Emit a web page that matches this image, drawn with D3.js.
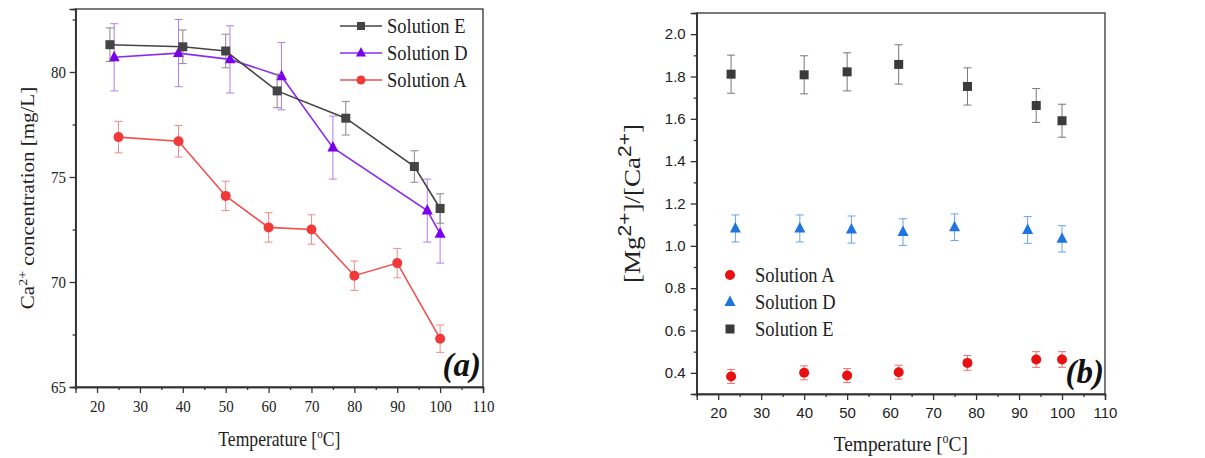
<!DOCTYPE html>
<html>
<head>
<meta charset="utf-8">
<script src="https://cdn.jsdelivr.net/npm/d3@7"></script>
<style>
  body { margin: 0; background: #fff; }
  .serif { font-family: "Liberation Serif", "Times New Roman", serif; }
  .sans { font-family: "Liberation Sans", Arial, sans-serif; }
</style>
</head>
<body>
<script>
// ---- data, panel (a): Ca2+ concentration [mg/L] ----
var tempA_a = [25, 39, 50, 60, 70, 80, 90, 100];
var caA = [76.9, 76.7, 74.1, 72.6, 72.5, 70.3, 70.9, 67.3];
var caA_err = [0.75, 0.75, 0.7, 0.7, 0.7, 0.7, 0.7, 0.65];

var tempD_a = [24, 39, 51, 63, 75, 97, 100];
var caD = [80.7, 80.9, 80.6, 79.8, 76.4, 73.4, 72.3];
var caD_err = [1.6, 1.6, 1.6, 1.6, 1.5, 1.5, 1.4];

var tempE_a = [23, 40, 50, 62, 78, 94, 100];
var caE = [81.3, 81.2, 81.0, 79.1, 77.8, 75.5, 73.5];
var caE_err = [0.8, 0.8, 0.8, 0.8, 0.8, 0.75, 0.7];

// ---- data, panel (b): [Mg2+]/[Ca2+] ----
var tempA_b = [23, 40, 50, 62, 78, 94, 100];
var ratioA = [0.383, 0.400, 0.387, 0.403, 0.447, 0.463, 0.463];
var ratioA_err = [0.033, 0.033, 0.033, 0.033, 0.035, 0.037, 0.037];

var tempD_b = [24, 39, 51, 63, 75, 92, 100];
var ratioD = [1.082, 1.082, 1.077, 1.065, 1.088, 1.075, 1.033];
var ratioD_err = [0.064, 0.064, 0.064, 0.063, 0.063, 0.063, 0.062];

var tempE_b = [23, 40, 50, 62, 78, 94, 100];
var ratioE = [1.811, 1.808, 1.822, 1.857, 1.753, 1.663, 1.591];
var ratioE_err = [0.09, 0.09, 0.09, 0.093, 0.088, 0.08, 0.078];

var xTicks = [20, 30, 40, 50, 60, 70, 80, 90, 100, 110];
var yTicks_a = [65, 70, 75, 80];
var yTicks_b = [0.4, 0.6, 0.8, 1.0, 1.2, 1.4, 1.6, 1.8, 2.0];

// the serif text in the figure is a bit narrow, squeeze it horizontally
var SQ = 0.88;

var svg = d3.select("body").append("svg")
  .attr("width", 1205)
  .attr("height", 458);

function zip(xs, ys, es) {
  return xs.map(function(x, i) { return {x: x, y: ys[i], e: es[i]}; });
}

function marker(g, shape, x, y, size, color) {
  if (shape === "square") {
    g.append("rect")
      .attr("x", x - size / 2).attr("y", y - size / 2)
      .attr("width", size).attr("height", size)
      .attr("fill", color);
  } else if (shape === "triangle") {
    var h = size * 0.95;
    g.append("path")
      .attr("d", "M" + x + "," + (y - h * 0.62) + "L" + (x + size / 2) + "," + (y + h * 0.38) +
                 "L" + (x - size / 2) + "," + (y + h * 0.38) + "Z")
      .attr("fill", color);
  } else {
    g.append("circle").attr("cx", x).attr("cy", y).attr("r", size / 2).attr("fill", color);
  }
}

function drawPanel(opt) {
  var m = opt.box;
  var x = d3.scaleLinear().domain([15, 110]).range([m.left, m.right]);
  var y = d3.scaleLinear().domain(opt.yDomain).range([m.bottom, m.top]);
  var g = svg.append("g");

  // frame
  g.append("rect")
    .attr("x", m.left).attr("y", m.top)
    .attr("width", m.right - m.left).attr("height", m.bottom - m.top)
    .attr("fill", "none").attr("stroke", "#333").attr("stroke-width", 1.3);

  // x axis
  g.append("g")
    .attr("transform", "translate(0," + m.bottom + ")")
    .call(d3.axisBottom(x).tickValues(xTicks).tickSize(6).tickPadding(7));
  g.append("g")
    .attr("transform", "translate(0," + m.bottom + ")")
    .call(d3.axisBottom(x).tickValues(d3.range(25, 110, 10)).tickSize(3).tickFormat(""));
  // y axis
  g.append("g")
    .attr("transform", "translate(" + m.left + ",0)")
    .call(d3.axisLeft(y).tickValues(opt.yTicks).tickSize(6).tickPadding(5).tickFormat(opt.yFormat));
  g.append("g")
    .attr("transform", "translate(" + m.left + ",0)")
    .call(d3.axisLeft(y).tickValues(opt.yMinor).tickSize(3).tickFormat(""));

  g.selectAll(".domain").attr("stroke", "#333").attr("stroke-width", 1.3);
  g.selectAll(".tick line").attr("stroke", "#333").attr("stroke-width", 1.3);
  g.selectAll(".tick text")
    .attr("class", opt.tickFont)
    .attr("font-size", opt.tickSize)
    .attr("transform", "scale(" + opt.tickSq + ",1)")
    .attr("fill", "#222");

  // series
  opt.series.forEach(function(s) {
    var pts = s.data;
    var sg = g.append("g");
    if (s.line) {
      sg.append("path")
        .attr("d", d3.line().x(function(d) { return x(d.x); }).y(function(d) { return y(d.y); })(pts))
        .attr("fill", "none").attr("stroke", s.lineColor).attr("stroke-width", 1.6);
    }
    pts.forEach(function(d) {
      var cx = x(d.x), y1 = y(d.y + d.e), y2 = y(d.y - d.e);
      sg.append("line").attr("x1", cx).attr("x2", cx).attr("y1", y1).attr("y2", y2)
        .attr("stroke", s.errColor).attr("stroke-width", 1);
      [y1, y2].forEach(function(yy) {
        sg.append("line").attr("x1", cx - 4).attr("x2", cx + 4).attr("y1", yy).attr("y2", yy)
          .attr("stroke", s.errColor).attr("stroke-width", 1);
      });
    });
    pts.forEach(function(d) { marker(sg, s.shape, x(d.x), y(d.y), s.size, s.color); });
  });

  // legend
  var lg = g.append("g");
  opt.series.slice().sort(function(a, b) { return a.legendRow - b.legendRow; }).forEach(function(s, i) {
    var ly = opt.legend.y + i * opt.legend.dy;
    if (s.line) {
      lg.append("line").attr("x1", opt.legend.x).attr("x2", opt.legend.x + 42)
        .attr("y1", ly).attr("y2", ly).attr("stroke", s.lineColor).attr("stroke-width", 1.6);
      marker(lg, s.shape, opt.legend.x + 21, ly, s.size - 1, s.color);
    } else {
      marker(lg, s.shape, opt.legend.x, ly, s.size, s.color);
    }
    lg.append("text").attr("class", "serif")
      .attr("transform", "translate(" + opt.legend.tx + "," + (ly + 7) + ") scale(" + SQ + ",1)")
      .attr("font-size", 21).attr("fill", "#222")
      .text(s.name);
  });

  // panel label
  g.append("text").attr("class", "serif")
    .attr("x", m.right - opt.labelInset).attr("y", m.bottom - 11)
    .attr("text-anchor", "end")
    .attr("font-size", 33).attr("font-weight", "bold").attr("font-style", "italic")
    .attr("fill", "#111")
    .text(opt.label);

  // x title
  var xt = g.append("text").attr("class", "serif")
    .attr("transform", "translate(" + ((m.left + m.right) / 2) + "," + opt.xTitleY + ") scale(" + SQ + ",1)")
    .attr("text-anchor", "middle").attr("font-size", opt.xTitleSize).attr("fill", "#222");
  xt.append("tspan").text("Temperature [");
  xt.append("tspan").attr("dy", -8).attr("font-size", opt.xTitleSize * 0.62).text("o");
  xt.append("tspan").attr("dy", 8).text("C]");

  // y title
  var yt = g.append("text").attr("class", "serif")
    .attr("transform", "translate(" + opt.yTitleX + "," + ((m.top + m.bottom) / 2) + ") rotate(-90) scale(1," + SQ + ")")
    .attr("text-anchor", "middle").attr("font-size", opt.yTitleSize).attr("fill", "#222");
  opt.yTitle(yt);
}

drawPanel({
  box: {left: 75.6, right: 483, top: 9, bottom: 387},
  yDomain: [65, 83],
  yTicks: yTicks_a,
  yMinor: [67.5, 72.5, 77.5, 82.5],
  yFormat: d3.format("d"),
  tickFont: "serif",
  tickSize: 17,
  tickSq: SQ,
  series: [
    {name: "Solution A", data: zip(tempA_a, caA, caA_err), shape: "circle", size: 10,
     color: "#f03a3a", lineColor: "#f05050", errColor: "#f08a8a", line: true, legendRow: 2},
    {name: "Solution D", data: zip(tempD_a, caD, caD_err), shape: "triangle", size: 11,
     color: "#7a00ee", lineColor: "#8a2cf0", errColor: "#b27cf5", line: true, legendRow: 1},
    {name: "Solution E", data: zip(tempE_a, caE, caE_err), shape: "square", size: 9,
     color: "#444", lineColor: "#444", errColor: "#888", line: true, legendRow: 0}
  ],
  legend: {x: 340, tx: 387, y: 26, dy: 27},
  label: "(a)",
  labelInset: 2,
  xTitleY: 446,
  xTitleSize: 20,
  yTitleX: 34,
  yTitleSize: 21,
  yTitle: function(t) {
    t.append("tspan").text("Ca");
    t.append("tspan").attr("dy", -8).attr("font-size", 14).text("2+");
    t.append("tspan").attr("dy", 8).text(" concentration [mg/L]");
  }
});

drawPanel({
  box: {left: 696.7, right: 1105, top: 13, bottom: 394},
  yDomain: [0.3, 2.1],
  yTicks: yTicks_b,
  yMinor: [0.5, 0.7, 0.9, 1.1, 1.3, 1.5, 1.7, 1.9],
  yFormat: d3.format(".1f"),
  tickFont: "sans",
  tickSize: 15,
  tickSq: 1,
  series: [
    {name: "Solution A", data: zip(tempA_b, ratioA, ratioA_err), shape: "circle", size: 10,
     color: "#e81010", errColor: "#ef7070", line: false, legendRow: 0},
    {name: "Solution D", data: zip(tempD_b, ratioD, ratioD_err), shape: "triangle", size: 11,
     color: "#1f74e0", errColor: "#6aa2ec", line: false, legendRow: 1},
    {name: "Solution E", data: zip(tempE_b, ratioE, ratioE_err), shape: "square", size: 9,
     color: "#3a3a3a", errColor: "#777", line: false, legendRow: 2}
  ],
  legend: {x: 730, tx: 755, y: 275, dy: 27},
  label: "(b)",
  labelInset: 1,
  xTitleY: 451,
  xTitleSize: 22,
  yTitleX: 640,
  yTitleSize: 27,
  yTitle: function(t) {
    t.append("tspan").text("[Mg");
    t.append("tspan").attr("class", "sans").attr("dy", -10).attr("font-size", 21).text("2+");
    t.append("tspan").attr("dy", 10).text("]/[Ca");
    t.append("tspan").attr("class", "sans").attr("dy", -10).attr("font-size", 21).text("2+");
    t.append("tspan").attr("dy", 10).text("]");
  }
});
</script>
</body>
</html>
